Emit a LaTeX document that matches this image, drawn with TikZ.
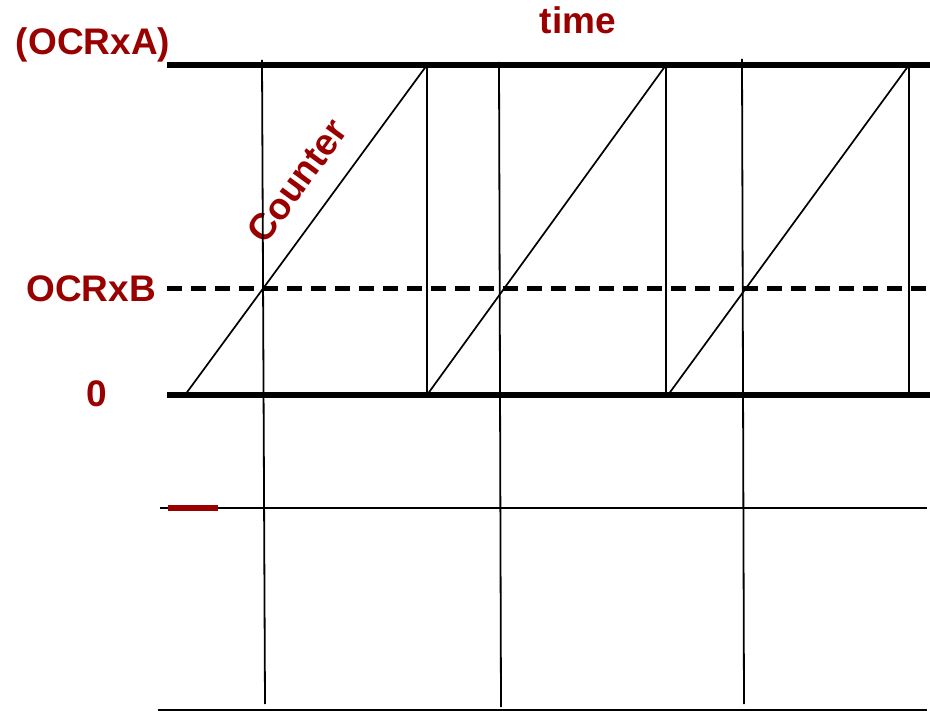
\documentclass[tikz,border=0pt]{standalone}
\usepackage{fontspec}
\setmainfont{Liberation Sans}
\definecolor{darkred}{RGB}{153,0,0}
\begin{document}
\begin{tikzpicture}[x=1pt,y=-1pt,
  lbl/.style={text=darkred,font=\fontsize{37}{41}\selectfont\bfseries,inner sep=0pt},
  levelline/.style={line width=5.5pt},
  dashline/.style={line width=5pt,dash pattern=on 15pt off 9pt},
  thinline/.style={line width=1.8pt},
  sawline/.style={line width=1.7pt,line join=miter}]
\useasboundingbox (0,0) rectangle (930,711);
% labels
\node[lbl,anchor=base] (ocra) at (93,55) {(OCRxA)};
\node[lbl,anchor=base] (ocrb) at (91,302) {OCRxB};
\node[lbl,anchor=base] (zero) at (97,407) {0};
\node[lbl,anchor=base] (time) at (578,34) {time};
\node[lbl,rotate=53.7] (counter) at (297,181) {Counter};
% coordinates
\coordinate (tl) at (167,65);  \coordinate (tr) at (930,65);
\coordinate (bl) at (167,289); \coordinate (br) at (930,289);
\coordinate (zl) at (167,395); \coordinate (zr) at (930,395);
\coordinate (al) at (160,508); \coordinate (ar) at (927,508);
\coordinate (ql) at (158,710); \coordinate (qr) at (927,710);
\coordinate (rl) at (168,508); \coordinate (rr) at (218,508);
\coordinate (s0) at (185,395);
\coordinate (p1) at (427,65); \coordinate (q1) at (427,395);
\coordinate (p2) at (666,65); \coordinate (q2) at (668,395);
\coordinate (p3) at (909,65); \coordinate (q3) at (909,395);
\coordinate (v1t) at (262,60); \coordinate (v1b) at (265,704);
\coordinate (v2t) at (499,62); \coordinate (v2b) at (501,707);
\coordinate (v3t) at (742,59); \coordinate (v3b) at (744,704);
% level lines
\draw[levelline] (tl) -- (tr);
\draw[dashline] (bl) -- (br);
\draw[levelline] (zl) -- (zr);
\draw[thinline] (al) -- (ar);
\draw[thinline] (ql) -- (qr);
\draw[line width=5.5pt,darkred] (rl) -- (rr);
% sawtooth
\draw[sawline] (s0) -- (p1) -- (q1) -- (p2) -- (p2 |- q1) (q2) -- (p3) -- (q3);
% vertical markers
\draw[thinline] (v1t) -- (v1b);
\draw[thinline] (v2t) -- (v2b);
\draw[thinline] (v3t) -- (v3b);
\end{tikzpicture}
\end{document}
